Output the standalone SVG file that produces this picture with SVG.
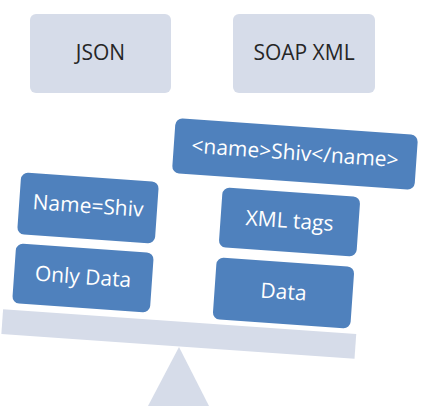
<svg xmlns="http://www.w3.org/2000/svg" width="423" height="413" viewBox="0 0 423 413">
<style>
.hdr{fill:#D6DCE9}
.blk{fill:#4F81BD}
.base{fill:#D6DCE9}
.t{font-family:"Open Sans","Noto Sans",sans-serif;font-size:21px;text-anchor:middle}
.dark{fill:#262626}
.light{fill:#FFFFFF}
</style>
<rect width="423" height="413" fill="#FFFFFF"/>
<g id="json">
<rect class="hdr" x="30" y="14" width="141" height="79" rx="6"/>
<text class="t dark" x="100.5" y="60">JSON</text>
</g>
<g id="soapxml">
<rect class="hdr" x="233" y="14" width="142" height="79" rx="6"/>
<text class="t dark" x="304" y="60">SOAP XML</text>
</g>
<g id="fulcrum">
<polygon class="base" points="179,347 148,406 209,406"/>
</g>
<g id="beam">
<rect class="base" x="-177" y="-12.5" width="354" height="25" transform="translate(178.8,334) rotate(4)"/>
</g>
<g id="only-data" transform="translate(83,278) rotate(4)">
<rect class="blk" x="-69" y="-30" width="138" height="60" rx="7"/>
<text class="t light" x="0" y="6">Only Data</text>
</g>
<g id="name-shiv" transform="translate(88,208) rotate(4)">
<rect class="blk" x="-69" y="-31" width="138" height="62" rx="7"/>
<text class="t light" x="0" y="5">Name=Shiv</text>
</g>
<g id="data" transform="translate(283.5,293) rotate(4)">
<rect class="blk" x="-69" y="-31" width="138" height="62" rx="7"/>
<text class="t light" x="0" y="6">Data</text>
</g>
<g id="xml-tags" transform="translate(289.5,222) rotate(4)">
<rect class="blk" x="-69" y="-30" width="138" height="60" rx="7"/>
<text class="t light" x="0" y="6">XML tags</text>
</g>
<g id="name-tag" transform="translate(295,154) rotate(4)">
<rect class="blk" x="-121.5" y="-27.5" width="243" height="55" rx="7"/>
<text class="t light" x="0" y="6">&lt;name&gt;Shiv&lt;/name&gt;</text>
</g>
<g id="connectors"></g>
</svg>
